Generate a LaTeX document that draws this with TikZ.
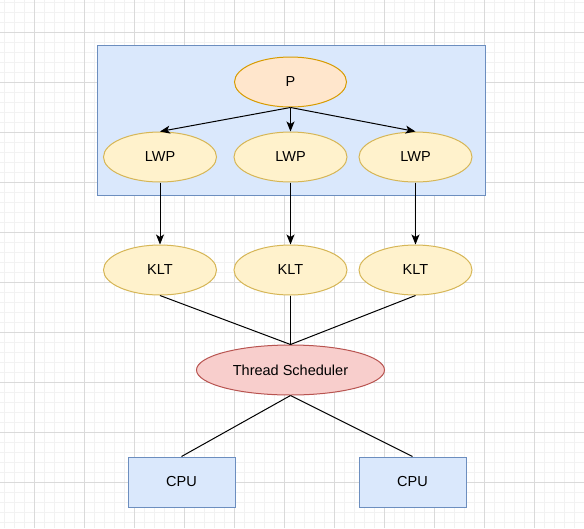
\documentclass[tikz,border=0pt]{standalone}
\usepackage{fontspec}
\setmainfont{Liberation Sans}
\usetikzlibrary{shapes.geometric,arrows.meta}
\definecolor{gridminor}{RGB}{242,242,242}
\definecolor{gridmajor}{RGB}{218,218,218}
\definecolor{bluefill}{HTML}{DAE8FC}
\definecolor{bluedraw}{HTML}{6C8EBF}
\definecolor{orfill}{HTML}{FFE6CC}
\definecolor{ordraw}{HTML}{D79B00}
\definecolor{yefill}{HTML}{FFF2CC}
\definecolor{yedraw}{HTML}{D6B656}
\definecolor{refill}{HTML}{F8CECC}
\definecolor{redraw}{HTML}{B85450}
\tikzset{
  base/.style={inner sep=0pt, line width=1pt, font=\fontsize{14.5}{17}\selectfont},
  ell/.style={base, ellipse, minimum width=113pt, minimum height=50pt},
  yell/.style={ell, fill=yefill, draw=yedraw},
  cpubox/.style={base, rectangle, fill=bluefill, draw=bluedraw, minimum width=107pt, minimum height=50pt},
  arr/.style={line width=1pt, -{Stealth[length=10pt,width=8pt,inset=2.5pt]}},
  ln/.style={line width=1pt}
}
\begin{document}
\begin{tikzpicture}[x=1pt,y=-1pt]
\useasboundingbox (0,0) rectangle (584,528);
\fill[white] (0,0) rectangle (584,528);
\foreach \x in {4,14,...,584} \draw[gridminor,line width=1pt] (\x,0) -- (\x,528);
\foreach \y in {2,12,...,528} \draw[gridminor,line width=1pt] (0,\y) -- (584,\y);
\foreach \x in {34,84,...,584} \draw[gridmajor,line width=1pt] (\x,0) -- (\x,528);
\foreach \y in {32,82,...,528} \draw[gridmajor,line width=1pt] (0,\y) -- (584,\y);
\node[base, rectangle, fill=bluefill, draw=bluedraw, minimum width=388pt, minimum height=150pt] (box) at (291,120) {};
\node[ell, fill=orfill, draw=ordraw, minimum width=112pt] (P) at (290.5,82) {P};
\node[yell] (l1) at (160,157) {LWP};
\node[yell] (l2) at (290.5,157) {LWP};
\node[yell] (l3) at (415.5,157) {LWP};
\node[yell] (k1) at (160,270) {KLT};
\node[yell] (k2) at (290.5,270) {KLT};
\node[yell] (k3) at (415.5,270) {KLT};
\node[ell, fill=refill, draw=redraw, minimum width=188pt] (s) at (290.5,370) {Thread Scheduler};
\node[cpubox] (c1) at (181.5,482) {CPU};
\node[cpubox] (c2) at (412.5,482) {CPU};
\draw[arr] (P.south) -- (l1.north);
\draw[arr] (P.south) -- (l2.north);
\draw[arr] (P.south) -- (l3.north);
\draw[arr] (l1.south) -- (k1.north);
\draw[arr] (l2.south) -- (k2.north);
\draw[arr] (l3.south) -- (k3.north);
\draw[ln] (k1.south) -- (s.north);
\draw[ln] (k2.south) -- (s.north);
\draw[ln] (k3.south) -- (s.north);
\draw[ln] (s.south) -- (c1.north);
\draw[ln] (s.south) -- (c2.north);
\end{tikzpicture}
\end{document}
